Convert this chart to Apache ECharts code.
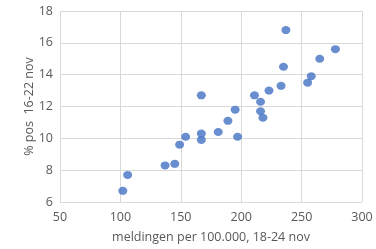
<!DOCTYPE html>
<html>
<head>
<meta charset="utf-8">
<script src="https://cdn.jsdelivr.net/npm/echarts@6/dist/echarts.min.js"></script>
<style>
  html, body { margin: 0; padding: 0; background: #fff; }
  #chart { width: 376px; height: 249px; }
</style>
</head>
<body>
<div id="chart"></div>
<script>
// meldingen per 100.000 (18-24 nov) vs % positief (16-22 nov)
var meldingen = [102, 106, 137, 145, 149, 154, 167, 167, 167, 181, 189, 195, 197,
                 211, 216, 216, 218, 223, 233, 235, 237, 255, 258, 265, 278];
var pctPos = [6.7, 7.7, 8.3, 8.4, 9.6, 10.1, 12.7, 10.3, 9.9, 10.4, 11.1, 11.8, 10.1,
              12.7, 12.3, 11.7, 11.3, 13.0, 13.3, 14.5, 16.8, 13.5, 13.9, 15.0, 15.6];

var xName = 'meldingen per 100.000, 18-24 nov';
var yName = '% pos  16-22 nov';

var points = [];
for (var i = 0; i < meldingen.length; i++) {
  points.push([meldingen[i], pctPos[i]]);
}

var font = 'Open Sans';
var myChart = echarts.init(document.getElementById('chart'));

var option = {
  animation: false,
  grid: { left: 60, right: 14, top: 11, bottom: 42 },
  xAxis: {
    type: 'value',
    min: 50, max: 300, interval: 50,
    name: xName,
    nameLocation: 'middle',
    nameGap: 29,
    nameMoveOverlap: false,
    nameTextStyle: { color: '#595959', fontFamily: font, fontSize: 12.5 },
    axisLine: { show: false },
    axisTick: { show: false },
    axisLabel: { color: '#595959', fontFamily: font, fontSize: 12.5, margin: 9 },
    splitLine: { lineStyle: { color: '#d9d9d9', width: 1 } }
  },
  yAxis: {
    type: 'value',
    min: 6, max: 18, interval: 2,
    name: yName,
    nameLocation: 'middle',
    nameGap: 24,
    nameMoveOverlap: false,
    nameTextStyle: { color: '#595959', fontFamily: font, fontSize: 12.5 },
    axisLine: { show: false },
    axisTick: { show: false },
    axisLabel: { color: '#595959', fontFamily: font, fontSize: 12.5, margin: 7 },
    splitLine: { lineStyle: { color: '#d9d9d9', width: 1 } }
  },
  series: [
    {
      type: 'scatter',
      data: points,
      symbol: 'circle',
      symbolSize: [9, 8],
      itemStyle: { color: '#4472c4' }
    }
  ]
};

myChart.setOption(option);
</script>
</body>
</html>
